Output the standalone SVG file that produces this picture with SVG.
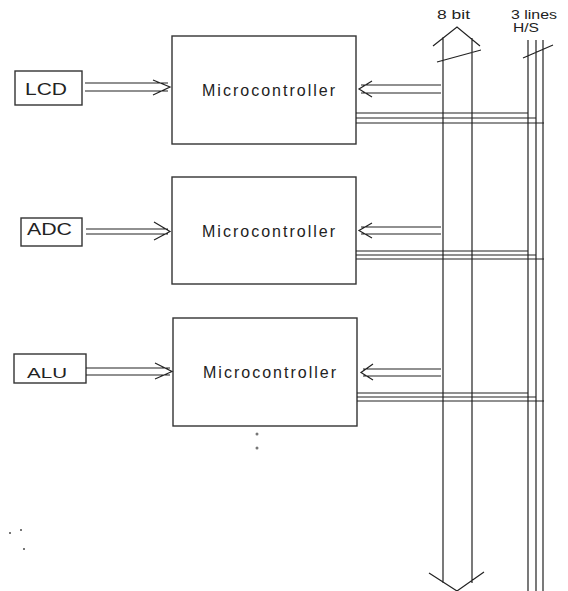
<svg xmlns="http://www.w3.org/2000/svg" width="568" height="591" viewBox="0 0 568 591">
<style>
.box{fill:#fff;stroke:#333;stroke-width:1.4}
.ln{fill:none;stroke:#222;stroke-width:1.2}
.txt{font-family:"Liberation Sans",Arial,sans-serif;fill:#222}
.dot{fill:#777}
</style>
<rect width="568" height="591" fill="#fff"/>
<g id="lcd"><rect class="box" x="15" y="71" width="67" height="34"/><text class="txt" x="25" y="95" font-size="16" textLength="42" lengthAdjust="spacingAndGlyphs">LCD</text></g>
<g id="adc"><rect class="box" x="21" y="218" width="61" height="28"/><text class="txt" x="27" y="235" font-size="16" textLength="45" lengthAdjust="spacingAndGlyphs">ADC</text></g>
<g id="alu"><rect class="box" x="14" y="354" width="72" height="29"/><text class="txt" x="27" y="378" font-size="15" textLength="40" lengthAdjust="spacingAndGlyphs">ALU</text></g>
<g id="mc1"><rect class="box" x="172" y="36" width="184" height="108"/><text class="txt" x="202" y="96" font-size="16" textLength="133" lengthAdjust="spacing">Microcontroller</text></g>
<g id="mc2"><rect class="box" x="172" y="177" width="184" height="107"/><text class="txt" x="202" y="237" font-size="16" textLength="133" lengthAdjust="spacing">Microcontroller</text></g>
<g id="mc3"><rect class="box" x="173" y="318" width="184" height="108"/><text class="txt" x="203" y="378" font-size="16" textLength="133" lengthAdjust="spacing">Microcontroller</text></g>
<g id="labels">
<text class="txt" x="437" y="19" font-size="12" textLength="33" lengthAdjust="spacingAndGlyphs">8 bit</text>
<text class="txt" x="511" y="19" font-size="12" textLength="46" lengthAdjust="spacingAndGlyphs">3 lines</text>
<text class="txt" x="513" y="32" font-size="12" textLength="26" lengthAdjust="spacingAndGlyphs">H/S</text>
</g>
<g id="connectors" class="ln">
<!-- input arrows -->
<path d="M85 83H168M85 91H168M153 80L170 87L153 95"/>
<path d="M86 229H168M86 234H168M154 222L170 231.5L154 240"/>
<path d="M86 368H170M86 375H170M155 363L172 371.5L155 379"/>
<!-- arrows from bus -->
<path d="M361 85H441M361 93H441M372 81L359 89L372 97"/>
<path d="M361 227H441M361 234H441M372 223L359 230.5L372 238"/>
<path d="M363 369H441M363 376H441M373 364L361 372.5L373 380"/>
<!-- handshake lines -->
<path d="M356 113H528M356 118H536M356 123H544"/>
<path d="M356 251H528M356 255H536M356 259H544"/>
<path d="M357 393H528M357 397H536M357 401H544"/>
<!-- bus -->
<path d="M443 37V583M472 38V583M433 46L457 27L480 46M429 573L457 591L484 572M437 62L481 50"/>
<!-- 3 lines -->
<path d="M528 40V591M536 40V591M543 40V591M523 58L553 45"/>
</g>
<g id="dots">
<circle class="dot" cx="257" cy="434" r="1.5"/>
<circle class="dot" cx="257" cy="448" r="1.5"/>
<rect class="dot" x="9" y="532" width="2" height="2"/>
<rect class="dot" x="20" y="529" width="2" height="2"/>
<rect class="dot" x="23" y="548" width="2" height="2"/>
</g>
</svg>
